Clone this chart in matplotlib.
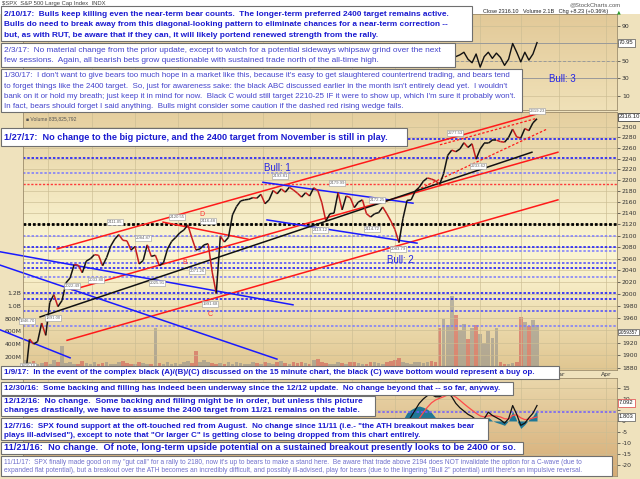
import numpy as np
import matplotlib
matplotlib.use("Agg")
import matplotlib.pyplot as plt
from matplotlib.collections import LineCollection
from matplotlib.patches import Rectangle
from matplotlib.ticker import NullLocator, NullFormatter

plt.rcParams['axes.unicode_minus'] = False

# ---------------- data ----------------
# S&P 500 close, one value every 2 trading days from Feb 8 2016 to Feb 10 2017
spx_close = [
    1853, 1852, 1865, 1926, 1918, 1922, 1952, 1932, 1986, 1999,
    1979, 1989, 2019, 2027, 2050, 2049, 2036, 2056, 2060, 2067,
    2066, 2048, 2062, 2082, 2094, 2102, 2092, 2091, 2075, 2081,
    2051, 2057, 2084, 2064, 2066, 2048, 2053, 2077, 2090, 2097,
    2105, 2110, 2119, 2096, 2075, 2077, 2084, 2086, 2037, 2001,
    2099, 2089, 2097, 2137, 2152, 2162, 2164, 2165, 2168, 2167,
    2174, 2157, 2164, 2181, 2175, 2184, 2178, 2187, 2182, 2176,
    2169, 2177, 2171, 2186, 2181, 2159, 2126, 2139, 2140, 2177,
    2146, 2171, 2168, 2150, 2160, 2164, 2139, 2133, 2139, 2141,
    2151, 2139, 2126, 2111, 2088, 2131, 2163, 2164, 2180, 2187,
    2198, 2204, 2202, 2199, 2192, 2212, 2246, 2256, 2253, 2258,
    2270, 2261, 2268, 2239, 2258, 2269, 2269, 2275, 2275, 2272,
    2271, 2280, 2296, 2281, 2279, 2297, 2293, 2308, 2316,
]
# volume in millions, same sampling
volume_m = [
    250, 180, 150, 120, 140, 100, 110, 130, 90, 160,
    120, 370, 110, 130, 100, 90, 140, 110, 100, 120,
    90, 110, 130, 100, 90, 120, 140, 110, 100, 90,
    120, 110, 100, 90, 650, 110, 100, 130, 90, 110,
    100, 120, 140, 110, 300, 130, 160, 120, 110, 100,
    110, 90, 120, 100, 130, 110, 90, 100, 120, 110,
    100, 130, 110, 90, 120, 140, 110, 100, 120, 110,
    130, 110, 100, 150, 170, 120, 110, 100, 90, 120,
    110, 100, 130, 120, 110, 100, 90, 120, 130, 110,
    100, 120, 140, 160, 180, 120, 110, 100, 130, 120,
    110, 130, 140, 120,
    650, 800, 700, 1150, 850, 620, 720, 480, 650, 700, 560, 420, 600, 500, 650,
    120, 90, 100, 110, 130,
    820, 750, 680, 780, 700,
]
# RSI, from trading day 204 on (every 2 days)
rsi_start = 204
rsi_vals = [60, 58, 56, 58, 63, 60, 55, 57, 60, 52, 48, 58, 43, 55, 60, 53, 59, 54,
            45, 52, 70, 60, 49, 60, 51, 58, 71]
# lower indicator, from trading day 176 on (every 2 days)
ind_start = 176
ind_line = [-4, -4.5, -3.5, -4, -5, -6.5, -8, -5, -1, 2,
            5, 8, 10, 11.5, 12, 11, 11, 12, 13, 11,
            8, 6, 4.5, 3, 2, 0.5, -0.5, 1, 4, 2.5,
            1.5, 0.5, -1, 1, 7, 3, -2, -1, 1.4, 3.5, 7]
ind_signal = [-3, -3.3, -3.4, -3.6, -4, -4.6, -5.5, -5.6, -4.8, -3.2,
              -1.2, 1.2, 3.8, 6.2, 8.2, 9.5, 10.3, 11, 11.8, 11.8,
              10.8, 9.4, 7.8, 6.3, 4.9, 3.5, 2.3, 1.8, 2.3, 2.4,
              2.2, 1.8, 1.0, 0.9, 2.5, 2.8, 1.4, 0.6, 0.8, 1.3, 1.8]

month_start = [15, 37, 58, 79, 101, 121, 144, 165, 186, 207, 228, 248, 267, 290]
# only the labels right of the 1/9/17 note are visible
month_labels = [''] * 12 + ['Mar', 'Apr']

price_ticks = list(range(1880, 2301, 20))
price_labels = ['' if v == 1940 else str(v) for v in price_ticks]
rsi_ticks = [10, 30, 50, 70, 90]
rsi_labels = ['10', '30', '50', '', '90']
ind_ticks = [-20, -15, -10, -5, 0, 5, 10, 15]
ind_labels = ['-20', '-15', '-10', '-5', '0', '', '10', '15']
vol_ticks = [200e6, 400e6, 600e6, 800e6, 1.0e9, 1.2e9]
vol_labels = ['200M', '400M', '600M', '800M', '1.0B', '1.2B']

# horizontal levels: (price, colour, width)
levels = [(2278, '#1010ff', 1.1), (2241, '#1010ff', 1.1), (2213, '#7a7aff', 1.1),
          (2193.81, '#ff3a3a', 1.0), (2120, '#000000', 2.0), (2100, '#7a7aff', 1.1),
          (2080, '#1010ff', 1.1), (2073, '#7a7aff', 1.1), (2053, '#4a4aff', 1.1),
          (2044, '#1010ff', 1.1), (2029, '#7a7aff', 1.1), (2002, '#1010ff', 1.1),
          (1991.68, '#1010ff', 1.1), (1971, '#4a4aff', 1.1), (1947, '#7a7aff', 1.1)]

# trend lines: (day0, price0, day1, price1)
red_lines = [(19.6, 2077, 257.5, 2327), (27.0, 2007, 266.3, 2252),
             (24.5, 1924, 266.3, 2164), (71.8, 2124, 113.6, 2094)]
red_dashed = [(196.9, 2182, 260.9, 2296), (208.2, 2266, 256.0, 2317)]
blue_lines = [(121.0, 2196, 194.9, 2158), (123.0, 2128, 196.9, 2087)]
blue_long = [(-8.5, 2072, 135.8, 1982), (-8.5, 2049, 127.9, 1894), (-8.5, 1941, 26.0, 1896)]
black_lines = [(11.2, 1962, 253.5, 2252)]

# ---------------- figure ----------------
W, H = 640, 479
fig = plt.figure(figsize=(6.4, 4.79), dpi=100)
fig.patch.set_facecolor('#efe2bd')
FONT = 'Liberation Sans'


def rect(x0, y0, x1, y1):
    return [x0 / W, 1 - y1 / H, (x1 - x0) / W, (y1 - y0) / H]


def gradient(r, stops):
    bg = fig.add_axes(r, zorder=0)
    bg.set_axis_off()
    t = np.linspace(0, 1, 200)
    pos = [s[0] for s in stops]
    rgb = np.array([matplotlib.colors.to_rgb(s[1]) for s in stops])
    img = np.stack([np.interp(t, pos, rgb[:, c]) for c in range(3)], axis=1)[:, None, :]
    bg.imshow(img, aspect='auto', extent=[0, 1, 0, 1], interpolation='bilinear')
    bg.set_xlim(0, 1)
    bg.set_ylim(0, 1)


fig.add_artist(Rectangle((0, 1 - 14 / H), 1, 14 / H, transform=fig.transFigure,
                         facecolor='white', edgecolor='none', zorder=0.5))

r_top, r_main, r_bot = rect(23, 14, 617, 110), rect(23, 112, 617, 370), rect(23, 378, 617, 476)
gradient(r_top, [(0, '#e2c998'), (1, '#f0e1b8')])
gradient(r_main, [(0, '#e5cf9f'), (0.52, '#fbf6d4'), (0.62, '#f9f1cc'), (1, '#e0c691')])
gradient(r_bot, [(0, '#ead7ab'), (1, '#d5ac76')])

ax_top = fig.add_axes(r_top, zorder=2)
ax_vol = fig.add_axes(r_main, zorder=1)
ax_main = fig.add_axes(r_main, zorder=2)
ax_bot = fig.add_axes(r_bot, zorder=2)

x_lo, x_hi = 2.8, 295.4
days = np.arange(len(spx_close)) * 2
close = np.array(spx_close, dtype=float)

for ax in (ax_top, ax_vol, ax_main, ax_bot):
    ax.patch.set_alpha(0)
    ax.set_xlim(x_lo, x_hi)
    for s in ax.spines.values():
        s.set_color('#9c8c6c')
        s.set_linewidth(0.6)
for s in ax_vol.spines.values():
    s.set_visible(False)

for ax in (ax_top, ax_main, ax_bot):
    ax.set_xticks(month_start)
    ax.grid(True, axis='both', color='#cbbd93', lw=0.45)
    ax.set_axisbelow(True)
    ax.tick_params(axis='x', length=0, labelbottom=False)
    ax.yaxis.tick_right()
    ax.tick_params(axis='y', labelsize=4.4, length=2, width=0.5, pad=1.5, colors='#333333')

# volume
vol = np.array(volume_m) * 1e6
up = np.r_[True, np.diff(close) >= 0]
ax_vol.bar(days, vol, width=1.8, color=np.where(up, '#8c8c8c', '#d05050'), alpha=0.55, lw=0)
ax_vol.set_ylim(0, 4.02e9)
ax_vol.set_xticks([])
ax_vol.set_yticks(vol_ticks)
ax_vol.set_yticklabels(vol_labels)
ax_vol.tick_params(axis='y', labelsize=4.4, length=0, pad=1, colors='#333333')

# main price panel
ax_main.set_yscale('log')
ax_main.set_ylim(1876.8, 2329.1)
ax_main.set_yticks(price_ticks)
ax_main.set_yticklabels(price_labels)
ax_main.yaxis.set_minor_locator(NullLocator())
ax_main.yaxis.set_minor_formatter(NullFormatter())
ax_main.set_xticklabels(month_labels)
ax_main.tick_params(axis='x', labelbottom=True, labelsize=4.4, pad=1.2, colors='#333333')

for p, c, lw in levels:
    ax_main.axhline(p, color=c, lw=lw, ls=(0, (1.6, 1.2)) if lw < 2 else (0, (1.0, 0.7)))

for d0, p0, d1, p1 in red_lines:
    ax_main.plot([d0, d1], [p0, p1], color='#ff1a1a', lw=1.1)
for d0, p0, d1, p1 in red_dashed:
    ax_main.plot([d0, d1], [p0, p1], color='#ff1a1a', lw=0.9, ls=(0, (2, 1.5)))
for d0, p0, d1, p1 in blue_lines:
    ax_main.plot([d0, d1], [p0, p1], color='#1a1aff', lw=1.1)
for d0, p0, d1, p1 in blue_long:
    ax_main.plot([d0, d1], [p0, p1], color='#1a1aff', lw=1.1, clip_on=False)
for d0, p0, d1, p1 in black_lines:
    ax_main.plot([d0, d1], [p0, p1], color='#111111', lw=1.1)

pts = np.column_stack([days, close])
segs = np.stack([pts[:-1], pts[1:]], axis=1)
seg_col = np.where(np.diff(close) >= 0, '#141414', '#c81e1e')
ax_main.add_collection(LineCollection(segs, colors=seg_col, lw=1.1, zorder=3))

# top panel (RSI)
ax_top.set_ylim(-6, 103.7)
ax_top.set_yticks(rsi_ticks)
ax_top.set_yticklabels(rsi_labels)
ax_top.axhline(70, color='#9a9a9a', lw=0.7)
ax_top.axhline(30, color='#9a9a9a', lw=0.7)
ax_top.axhline(50, color='#9a9a9a', lw=0.7, ls=(0, (3, 2)))
rsi_days = rsi_start + np.arange(len(rsi_vals)) * 2
ax_top.plot(rsi_days, rsi_vals, color='#111111', lw=1.0)

# bottom panel
ax_bot.set_ylim(-25, 19.5)
ax_bot.set_yticks(ind_ticks)
ax_bot.set_yticklabels(ind_labels)
ind_days = ind_start + np.arange(len(ind_line)) * 2
hist = np.array(ind_line) - np.array(ind_signal)
ax_bot.fill_between(ind_days, 0, hist, color='#1f7896', lw=0)
ax_bot.axhline(4, color='#6f5cff', lw=1.1, ls=(0, (1.6, 1.2)))
ax_bot.plot(ind_days, ind_signal, color='#ff4a4a', lw=0.9)
ax_bot.plot(ind_days, ind_line, color='#111111', lw=0.9)


# ---------------- text ----------------
def ftext(x, y, s, **kw):
    kw.setdefault('family', FONT)
    return fig.text(x / W, 1 - y / H, s, **kw)


ftext(2, 4, '$SPX  S&P 500 Large Cap Index  INDX', fontsize=4.2, color='#444444', va='center')
ftext(620, 5, '@StockCharts.com', fontsize=4.2, color='#555555', va='center', ha='right')
ftext(483, 11.5, 'Close 2316.10   Volume 2.1B   Chg +8.23 (+0.36%)', fontsize=4.0,
      color='#222222', va='center')
ftext(617, 11.5, '\u25b2', fontsize=3.5, color='#2a9a2a', va='center', family='DejaVu Sans')
ftext(26, 119, '\u25a0 Volume 835,825,792', fontsize=3.6, color='#555555', va='center')

tag = dict(boxstyle='square,pad=0.15', fc='white', ec='#9a9a9a', lw=0.4)
price_tags = [(455, 133, '2277.53'), (478, 166, '2233.62'), (537, 111, '2319.23'),
              (280, 176, '2193.81'), (337, 183, '2179.99'), (377, 200, '2172.25'),
              (320, 230, '2119.12'), (372, 229, '2114.72'), (398, 249, '2083.79'),
              (115, 222, '2111.05'), (177, 217, '2120.55'), (208, 221, '2116.48'),
              (143, 238, '2084.87'), (72, 286, '2022.49'), (96, 280, '2033.80'),
              (157, 283, '2025.91'), (197, 271, '2071.26'), (210, 304, '1991.68'),
              (53, 318, '1891.00'), (27, 321, '1946.70'), (28, 366, '1810.10')]
for x, y, s in price_tags:
    ftext(x, y, s, fontsize=3.1, color='#666666', ha='center', va='center', bbox=tag, zorder=5)

for x, y, s in [(202, 215, 'D'), (185, 262, 'B'), (210, 315, 'C')]:
    ftext(x, y, s, fontsize=5, color='#ff3030', ha='center', va='center', zorder=5)
for x, y, s in [(277, 168, 'Bull: 1'), (400, 260, 'Bull: 2'), (562, 79, 'Bull: 3')]:
    ftext(x, y, s, fontsize=7, color='#2626e6', ha='center', va='center', zorder=5)

vbox = dict(boxstyle='square,pad=0.2', fc='white', lw=0.5)
for y, s, ec, fs in [(117, '2316.10', '#222222', 4.2), (43, '70.95', '#555555', 4.2),
                     (403, '7.092', '#e04040', 4.2), (417, '1.803', '#555555', 4.2),
                     (332, '2059357', '#555555', 3.5)]:
    ftext(619, y, s, fontsize=fs, color='#222222', va='center', bbox=dict(vbox, ec=ec), zorder=6)

renderer = fig.canvas.get_renderer()


def note_box(x0, y0, x1, y1, lines, ys, end_x, ref, weight='bold', color='#1b1bd0'):
    fig.add_artist(Rectangle((x0 / W, 1 - y1 / H), (x1 - x0) / W, (y1 - y0) / H,
                             transform=fig.transFigure, facecolor='white',
                             edgecolor='#6f6f6f', lw=0.8, zorder=20))
    texts = [ftext(x0 + 3, y, s, fontsize=6, fontweight=weight, color=color,
                   va='center', zorder=21) for s, y in zip(lines, ys)]
    w = texts[ref].get_window_extent(renderer).width
    fs = 6 * (end_x - x0 - 3) / w
    for t in texts:
        t.set_fontsize(fs)


note_box(1, 6, 472, 41, [
    '2/10/17:  Bulls keep killing even the near-term bear counts.  The longer-term preferred 2400 target remains active.',
    'Bulls do need to break away from this diagonal-looking pattern to eliminate chances for a near-term correction --',
    'but, as with RUT, be aware that if they can, it will likely portend renewed strength from the rally.'],
    [14, 25, 35.5], 458, 0)
note_box(1, 43, 455, 67, [
    '2/3/17:  No material change from the prior update, except to watch for a potential sideways whipsaw grind over the next',
    'few sessions.  Again, all bearish bets grow questionable with sustained trade north of the all-time high.'],
    [50, 60.5], 447, 0, weight='normal', color='#4444cc')
note_box(1, 69, 522, 112, [
    "1/30/17:  I don't want to give bears too much hope in a market like this, because it's easy to get slaughtered countertrend trading, and bears tend",
    "to forget things like the 2400 target.  So, just for awareness sake: the black ABC discussed earlier in the month isn't entirely dead yet.  I wouldn't",
    "bank on it or hold my breath; just keep it in mind for now.  Black C would still target 2210-25 IF it were to show up, which I'm sure it probably won't.",
    "In fact, bears should forget I said anything.  Bulls might consider some caution if the dashed red rising wedge fails."],
    [75.5, 86, 96.5, 106.5], 517, 0, weight='normal', color='#4444cc')
note_box(1, 128, 407, 146, [
    '1/27/17:  No change to the big picture, and the 2400 target from November is still in play.'],
    [137.5], 395, 0)
note_box(1, 366, 559, 379, [
    '1/9/17:  In the event of the complex black (A)/(B)/(C) discussed on the 15 minute chart, the black (C) wave bottom would represent a buy op.'],
    [373], 542, 0)
note_box(1, 382, 513, 395, [
    '12/30/16:  Some backing and filling has indeed been underway since the 12/12 update.  No change beyond that -- so far, anyway.'],
    [388.5], 508, 0)
note_box(1, 396, 375, 416, [
    '12/12/16:  No change.  Some backing and filling might be in order, but unless this picture',
    'changes drastically, we have to assume the 2400 target from 11/21 remains on the table.'],
    [401.5, 411], 360, 1)
note_box(1, 418, 488, 440, [
    '12/7/16:  SPX found support at the oft-touched red from August.  No change since 11/11 (i.e.- "the ATH breakout makes bear',
    'plays ill-advised"), except to note that "Or larger C" is getting close to being dropped from this chart entirely.'],
    [426, 435.5], 483, 0)
note_box(1, 442, 523, 454, [
    '11/21/16:  No change.  Of note, long-term upside potential on a sustained breakout presently looks to be 2400 or so.'],
    [448], 520, 0)
note_box(1, 456, 612, 476, [
    '11/11/17:  SPX finally made good on my "gut call" for a rally to 2180, now it\'s up to bears to make a stand here.  Be aware that trade above 2194 does NOT invalidate the option for a C-wave (due to',
    'expanded flat potential), but a breakout over the ATH becomes an incredibly difficult, and possibly ill-advised, play for bears (due to the lingering "Bull 2" potential) until there\'s an impulsive reversal.'],
    [462.5, 470.5], 587, 1, weight='normal', color='#7070cc')

fig.savefig('out.png', dpi=100, facecolor=fig.get_facecolor())
